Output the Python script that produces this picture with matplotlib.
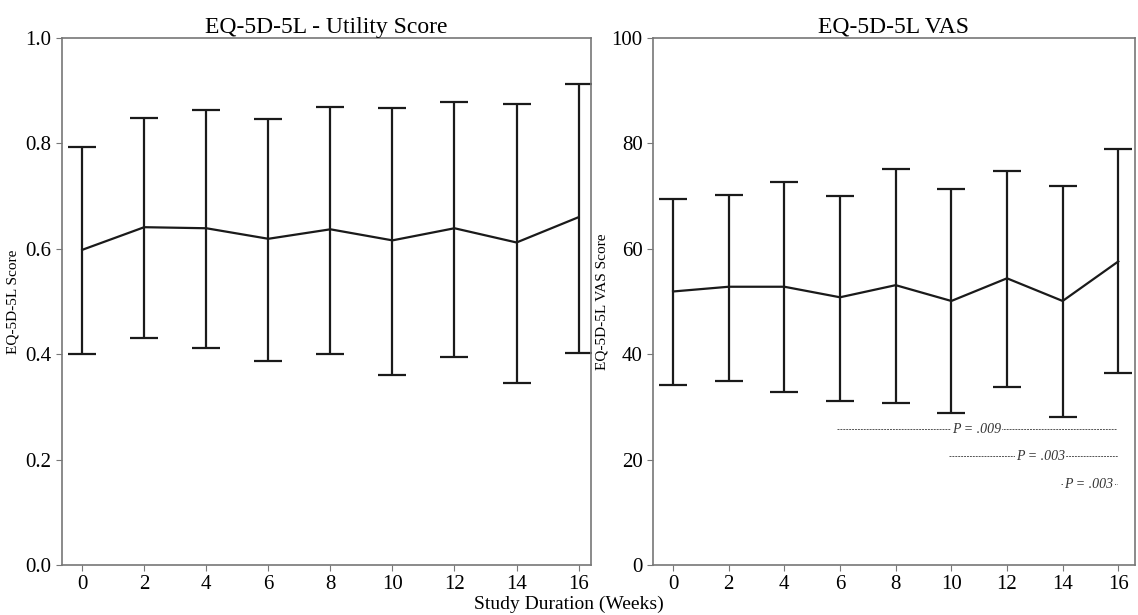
import numpy as np
import matplotlib
matplotlib.use('Agg')
import matplotlib.pyplot as plt

plt.rcParams['font.family'] = ['Liberation Serif', 'DejaVu Serif']

weeks = [0, 2, 4, 6, 8, 10, 12, 14, 16]

# EQ-5D-5L utility: mean, lower and upper whisker ends
util_mean = [0.598, 0.641, 0.639, 0.619, 0.637, 0.616, 0.639, 0.612, 0.660]
util_low = [0.400, 0.431, 0.411, 0.387, 0.400, 0.360, 0.394, 0.345, 0.403]
util_high = [0.794, 0.849, 0.863, 0.846, 0.870, 0.868, 0.879, 0.874, 0.913]

# EQ-5D-5L VAS
vas_mean = [51.9, 52.8, 52.8, 50.8, 53.1, 50.1, 54.4, 50.1, 57.6]
vas_low = [34.1, 34.9, 32.8, 31.2, 30.8, 28.8, 33.8, 28.0, 36.5]
vas_high = [69.5, 70.3, 72.6, 70.1, 75.2, 71.3, 74.8, 71.9, 78.9]

# p-value brackets: (start week, end week, y, label, label x)
p_brackets = [
    (5.9, 15.95, 25.8, 'P = .009', 10.9),
    (9.9, 16.0, 20.6, 'P = .003', 13.2),
    (13.95, 15.95, 15.3, 'P = .003', 14.95),
]

fig = plt.figure(figsize=(11.38, 6.15), dpi=100)
ax1 = fig.add_axes([62 / 1138, 50 / 615, 529 / 1138, 527 / 615])
ax2 = fig.add_axes([653 / 1138, 50 / 615, 482 / 1138, 527 / 615])


def draw_panel(ax, mean, low, high):
    mean = np.array(mean)
    yerr = [mean - np.array(low), np.array(high) - mean]
    ax.errorbar(weeks, mean, yerr=yerr, color='#1a1a1a', linewidth=1.6,
                elinewidth=1.6, capsize=10, capthick=1.6)
    for s in ax.spines.values():
        s.set_color('#777777')
        s.set_linewidth(1.2)
    ax.set_xticks(weeks)
    ax.tick_params(labelsize=15, length=4, color='#777777')


draw_panel(ax1, util_mean, util_low, util_high)
ax1.set_xlim(-0.65, 16.4)
ax1.set_ylim(0, 1.0)
ax1.set_yticks([0.0, 0.2, 0.4, 0.6, 0.8, 1.0])
ax1.set_title('EQ-5D-5L - Utility Score', fontsize=17, pad=3)
ax1.set_ylabel('EQ-5D-5L Score', fontsize=11, labelpad=4)

draw_panel(ax2, vas_mean, vas_low, vas_high)
ax2.set_xlim(-0.72, 16.6)
ax2.set_ylim(0, 100)
ax2.set_yticks([0, 20, 40, 60, 80, 100])
ax2.set_title('EQ-5D-5L VAS', fontsize=17, pad=3)
ax2.set_ylabel('EQ-5D-5L VAS Score', fontsize=11, labelpad=2)

for x0, x1, y, label, xt in p_brackets:
    ax2.plot([x0, x1], [y, y], color='#555555', linewidth=0.7,
             linestyle=(0, (2, 1)))
    ax2.text(xt, y, label, fontsize=10, style='italic', color='#333333',
             ha='center', va='center',
             bbox=dict(facecolor='white', edgecolor='none', pad=0.8))

fig.text(0.5, 0.003, 'Study Duration (Weeks)', ha='center', va='bottom',
         fontsize=14)

fig.savefig('out.png', dpi=100)
